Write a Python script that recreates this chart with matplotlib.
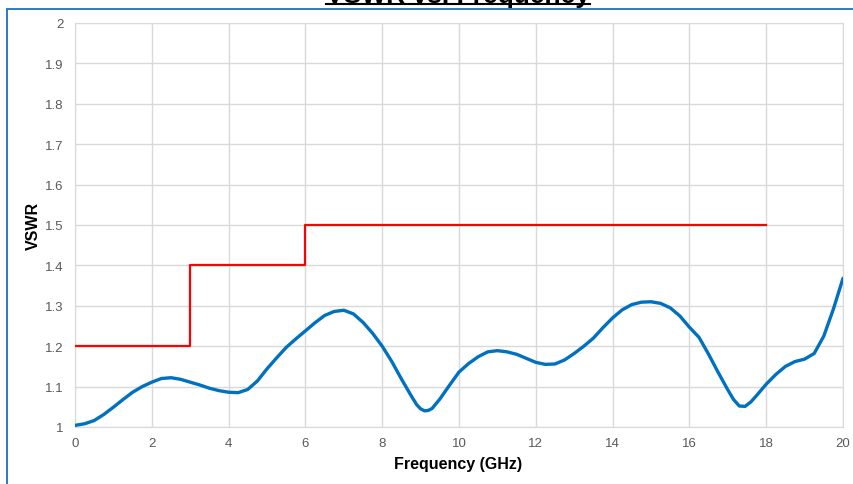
import matplotlib
matplotlib.use("Agg")
import matplotlib.pyplot as plt
from matplotlib.lines import Line2D
from matplotlib.patches import Rectangle

plt.rcParams['font.family'] = ['Liberation Sans', 'DejaVu Sans']

freq = [0.0, 0.25, 0.5, 0.75, 1.0, 1.25, 1.5, 1.75, 2.0, 2.25,
        2.5, 2.75, 3.0, 3.25, 3.5, 3.75, 4.0, 4.25, 4.5, 4.75,
        5.0, 5.25, 5.5, 5.75, 6.0, 6.25, 6.5, 6.75, 7.0, 7.25,
        7.5, 7.75, 8.0, 8.25, 8.5, 8.75, 8.9, 9.0, 9.1, 9.2, 9.3, 9.5, 9.75,
        10.0, 10.25, 10.5, 10.75, 11.0, 11.25, 11.5, 11.75, 12.0, 12.25,
        12.5, 12.75, 13.0, 13.25, 13.5, 13.75, 14.0, 14.25, 14.5, 14.75,
        15.0, 15.25, 15.5, 15.75, 16.0, 16.25, 16.5, 16.75, 17.0, 17.15, 17.3,
        17.45, 17.6, 17.75, 18.0, 18.25, 18.5, 18.75, 19.0, 19.25, 19.5, 19.75,
        20.0]
vswr = [1.004, 1.008, 1.016, 1.031, 1.049, 1.068, 1.086, 1.100, 1.111, 1.120,
        1.122, 1.118, 1.111, 1.104, 1.096, 1.090, 1.086, 1.085, 1.093, 1.114,
        1.144, 1.171, 1.197, 1.218, 1.238, 1.258, 1.276, 1.286, 1.289, 1.280,
        1.259, 1.232, 1.200, 1.162, 1.119, 1.078, 1.055, 1.045, 1.040, 1.041, 1.046, 1.069, 1.103,
        1.136, 1.157, 1.174, 1.186, 1.189, 1.186, 1.180, 1.170, 1.160, 1.155,
        1.156, 1.166, 1.182, 1.200, 1.220, 1.246, 1.270, 1.290, 1.303, 1.309,
        1.310, 1.306, 1.295, 1.275, 1.247, 1.222, 1.180, 1.135, 1.092, 1.068, 1.052,
        1.051, 1.062, 1.078, 1.106, 1.130, 1.150, 1.162, 1.168, 1.182, 1.225, 1.292,
        1.368]

# spec limit (step)
spec_freq = [0, 3, 3, 6, 6, 18]
spec_vswr = [1.2, 1.2, 1.4, 1.4, 1.5, 1.5]

x_ticks = list(range(0, 21, 2))
y_ticks = [1, 1.1, 1.2, 1.3, 1.4, 1.5, 1.6, 1.7, 1.8, 1.9, 2]
y_labels = ['1', '1.1', '1.2', '1.3', '1.4', '1.5', '1.6', '1.7', '1.8', '1.9', '2']

W, H = 854, 485
fig = plt.figure(figsize=(W / 100, H / 100), dpi=100)
ax = fig.add_axes([75 / W, 1 - 428 / H, 768 / W, 404 / H])

ax.plot(spec_freq, spec_vswr, color='#ff0000', lw=1.6, zorder=3)
ax.plot(freq, vswr, color='#0070c0', lw=2.4, zorder=4,
        solid_capstyle='round', solid_joinstyle='round')

ax.set_xlim(0, 20)
ax.set_ylim(1, 2)
ax.set_xticks(x_ticks)
ax.set_yticks(y_ticks)
ax.set_yticklabels(y_labels)
ax.grid(True, color='#d9d9d9', lw=1)
ax.set_axisbelow(True)
for s in ax.spines.values():
    s.set_color('#d9d9d9')
ax.tick_params(length=0, labelsize=9.5, labelcolor='#595959')
ax.tick_params(axis='x', pad=7)
ax.tick_params(axis='y', pad=8)

fig.text(458 / W, 1 - 465 / H, 'Frequency (GHz)', ha='center', va='center',
         fontsize=11.5, fontweight='bold')
fig.text(33 / W, 1 - 226 / H, 'VSWR', ha='center', va='center', rotation=90,
         fontsize=11.5, fontweight='bold')

# title, mostly cut off at the top
t = fig.text(458 / W, 1 - 2.5 / H, 'VSWR vs. Frequency', ha='center', va='baseline',
             fontsize=19, fontweight='bold')
fig.canvas.draw()
bb = t.get_window_extent(fig.canvas.get_renderer())
fig.add_artist(Line2D([bb.x0 / W, bb.x1 / W], [1 - 5 / H, 1 - 5 / H],
                      color='black', lw=1.5, transform=fig.transFigure))

# chart frame
fig.add_artist(Rectangle((7.5 / W, -0.1), 1.2, 1 - 9.5 / H + 0.1,
                         transform=fig.transFigure, fill=False,
                         edgecolor='#1f6fbd', lw=1.3))

fig.savefig('out.png', dpi=100)
